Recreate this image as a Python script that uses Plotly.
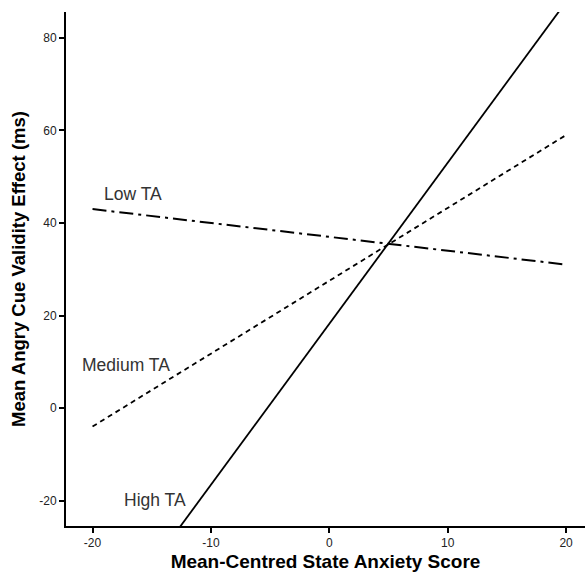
import plotly.graph_objects as go

x_vals = [-20, 20]
low_ta = [43.0, 31.0]
medium_ta = [-4.0, 59.0]
high_ta = [-51.4, 87.8]

x_ticks = [-20, -10, 0, 10, 20]
x_tick_labels = ["-20", "-10", "0", "10", "20"]
y_ticks = [-20, 0, 20, 40, 60, 80]
y_tick_labels = ["-20", "0", "20", "40", "60", "80"]

fig = go.Figure()
fig.add_trace(go.Scatter(x=x_vals, y=low_ta, mode="lines", name="Low TA",
                         line=dict(color="black", width=2, dash="14px,5px,3px,5px")))
fig.add_trace(go.Scatter(x=x_vals, y=medium_ta, mode="lines", name="Medium TA",
                         line=dict(color="black", width=1.8, dash="5px,4px")))
fig.add_trace(go.Scatter(x=x_vals, y=high_ta, mode="lines", name="High TA",
                         line=dict(color="black", width=1.8)))

labels = [("Low TA", -16.55, 46.3), ("Medium TA", -17.19, 9.4), ("High TA", -14.74, -19.8)]
for text, xx, yy in labels:
    fig.add_annotation(x=xx, y=yy, text=text, showarrow=False,
                       font=dict(family="Liberation Sans, Arial", size=17.5, color="#333333"))

axis_common = dict(showline=True, linecolor="black", linewidth=2, ticks="outside",
                   ticklen=5, tickwidth=1.5, tickcolor="black", showgrid=False, zeroline=False,
                   tickfont=dict(family="Liberation Sans, Arial", size=12, color="#222222"),
                   mirror=False, automargin=False)

fig.update_layout(
    width=585, height=574,
    margin=dict(l=66, r=0, t=12, b=48),
    plot_bgcolor="white", paper_bgcolor="white",
    showlegend=False,
    xaxis=dict(range=[-22.24, 21.6], tickvals=x_ticks, ticktext=x_tick_labels, **axis_common,
               title=dict(text="<b>Mean-Centred State Anxiety Score</b>", standoff=5,
                          font=dict(family="Liberation Sans, Arial", size=19, color="black"))),
    yaxis=dict(range=[-25.5, 85.6], tickvals=y_ticks, ticktext=y_tick_labels, **axis_common,
               title=dict(text="<b>Mean Angry Cue Validity Effect (ms)</b>", standoff=9,
                          font=dict(family="Liberation Sans, Arial", size=18.5, color="black"))),
)

fig.write_html("out.html", config={"displayModeBar": False},
               post_script="document.body.style.margin='0';document.body.style.overflow='hidden';")
